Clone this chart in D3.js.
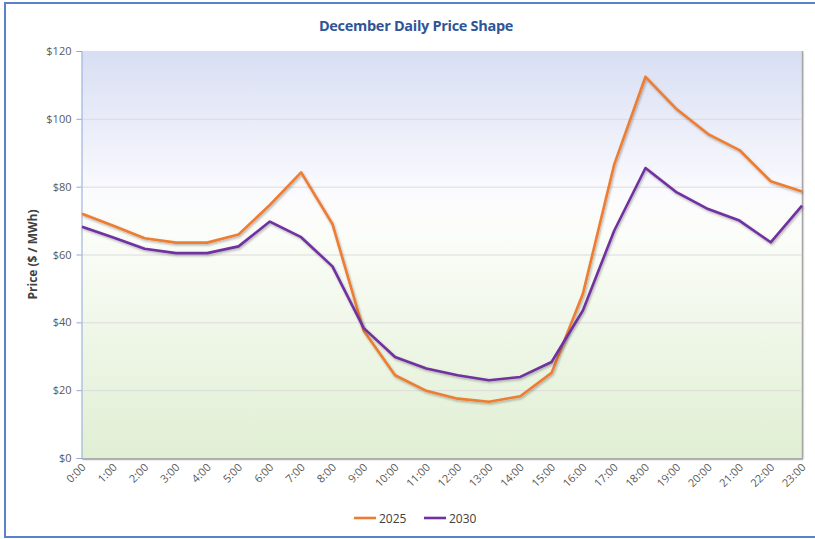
<!DOCTYPE html>
<html>
<head>
<meta charset="utf-8">
<style>
body { margin: 0; background: #fff; }
text { font-family: "Open Sans", "Liberation Sans", sans-serif; }
.tick text { fill: #595959; font-size: 11px; }
</style>
<script src="https://d3js.org/d3.v7.min.js"></script>
</head>
<body>
<svg width="815" height="539"></svg>
<script>

var hours = ["0:00","1:00","2:00","3:00","4:00","5:00","6:00","7:00","8:00","9:00","10:00","11:00",
             "12:00","13:00","14:00","15:00","16:00","17:00","18:00","19:00","20:00","21:00","22:00","23:00"];
var price2025 = [72, 68.5, 64.8, 63.5, 63.5, 65.9, 74.6, 84.2, 69, 37.5, 24.4, 19.8,
                 17.5, 16.6, 18.2, 25.1, 48.4, 86.5, 112.4, 102.8, 95.5, 90.8, 81.6, 78.6];
var price2030 = [68.2, 65, 61.7, 60.4, 60.4, 62.4, 69.7, 65.1, 56.5, 38.3, 29.8, 26.4,
                 24.4, 22.9, 23.9, 28.3, 43.5, 67, 85.5, 78.3, 73.4, 70, 63.6, 74.4];
var yTicks = [0, 20, 40, 60, 80, 100, 120];
var seriesNames = ["2025", "2030"];
var seriesColors = ["#ed7d31", "#7030a0"];

var svg = d3.select("svg");
var plotL = 82, plotR = 802, plotT = 51, plotB = 458;

var defs = svg.append("defs");
var grad = defs.append("linearGradient").attr("id", "bg")
    .attr("x1", 0).attr("y1", 0).attr("x2", 0).attr("y2", 1);
grad.append("stop").attr("offset", "0%").attr("stop-color", "#d8def3");
grad.append("stop").attr("offset", "35%").attr("stop-color", "#fbfbfe");
grad.append("stop").attr("offset", "45%").attr("stop-color", "#fbfdf8");
grad.append("stop").attr("offset", "100%").attr("stop-color", "#e0efd3");

var shadow = defs.append("filter").attr("id", "shadow")
    .attr("x", "-5%").attr("y", "-5%").attr("width", "110%").attr("height", "110%");
shadow.append("feDropShadow").attr("dx", 1).attr("dy", 1.5).attr("stdDeviation", 1)
    .attr("flood-color", "#000").attr("flood-opacity", 0.3);

// outer frame
svg.append("rect").attr("x", 5).attr("y", 3).attr("width", 830).attr("height", 534)
    .attr("fill", "#fff").attr("stroke", "#5b82c8").attr("stroke-width", 2);

var x = d3.scalePoint().domain(hours).range([plotL, plotR]);
var y = d3.scaleLinear().domain([0, 120]).range([plotB, plotT]);

// plot area
svg.append("rect").attr("x", plotL).attr("y", plotT)
    .attr("width", plotR - plotL).attr("height", plotB - plotT)
    .attr("fill", "url(#bg)").attr("filter", "url(#shadow)");
svg.append("line").attr("x1", plotR + 0.5).attr("x2", plotR + 0.5)
    .attr("y1", plotT).attr("y2", plotB + 1).attr("stroke", "#a6a6a6").attr("stroke-width", 1.5);
svg.append("line").attr("x1", plotL).attr("x2", plotR + 1)
    .attr("y1", plotB + 1).attr("y2", plotB + 1).attr("stroke", "#a6a6a6").attr("stroke-width", 1.5);

// gridlines
svg.append("g").selectAll("line").data(yTicks.slice(1, -1)).enter().append("line")
    .attr("x1", plotL).attr("x2", plotR)
    .attr("y1", function(d) { return y(d) + 0.5; })
    .attr("y2", function(d) { return y(d) + 0.5; })
    .attr("stroke", "#dcdcdc").attr("stroke-width", 1);

// y axis
var yAxis = svg.append("g").attr("transform", "translate(" + (plotL - 0.5) + ",0)")
    .call(d3.axisLeft(y).tickValues(yTicks).tickSize(5).tickPadding(5)
      .tickFormat(function(d) { return "$" + d; }));
yAxis.select(".domain").attr("stroke", "#8fa9dc");
yAxis.selectAll(".tick line").attr("stroke", "#8fa9dc");

// x axis labels
var xAxis = svg.append("g").attr("transform", "translate(0," + (plotB + 2) + ")")
    .call(d3.axisBottom(x).tickSize(0).tickPadding(0));
xAxis.select(".domain").remove();
xAxis.selectAll(".tick text")
    .attr("text-anchor", "end")
    .attr("dy", 0)
    .attr("y", 0)
    .attr("transform", "translate(4,8) rotate(-45)");

// y axis title
svg.append("text")
    .attr("transform", "translate(37," + ((plotT + plotB) / 2) + ") rotate(-90)")
    .attr("text-anchor", "middle")
    .attr("font-size", 12).attr("font-weight", "bold").attr("fill", "#404040")
    .text("Price ($ / MWh)");

// title
svg.append("text").attr("x", 416).attr("y", 31)
    .attr("text-anchor", "middle")
    .attr("font-size", 14.5).attr("font-weight", "bold").attr("fill", "#2f5597")
    .attr("letter-spacing", "-0.3")
    .text("December Daily Price Shape");

// lines
var line = d3.line()
    .x(function(d, i) { return x(hours[i]); })
    .y(function(d) { return y(d); });

[price2025, price2030].forEach(function(vals, i) {
  svg.append("path").datum(vals)
    .attr("d", line)
    .attr("fill", "none")
    .attr("stroke", seriesColors[i])
    .attr("stroke-width", 2.6)
    .attr("stroke-linejoin", "round")
    .attr("filter", "url(#shadow)");
});

// legend
var legend = svg.append("g").attr("transform", "translate(354,518)");
var item = legend.selectAll("g").data(seriesNames).enter().append("g")
    .attr("transform", function(d, i) { return "translate(" + (i * 70) + ",0)"; });
item.append("line").attr("x1", 0).attr("x2", 22)
    .attr("stroke", function(d, i) { return seriesColors[i]; })
    .attr("stroke-width", 2.6);
item.append("text").attr("x", 25).attr("y", 4.5)
    .attr("font-size", 12).attr("fill", "#404040")
    .text(function(d) { return d; });

</script>
</body>
</html>
